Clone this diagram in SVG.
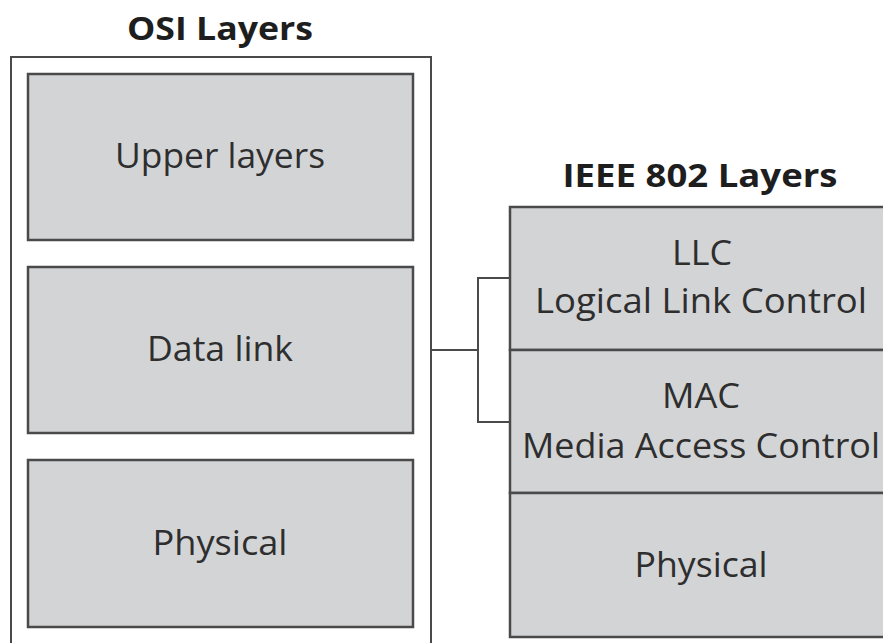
<svg xmlns="http://www.w3.org/2000/svg" width="883" height="643" viewBox="0 0 883 643">
<style>
.outer{fill:#fff;stroke:#4a4a4a;stroke-width:2}
.box{fill:#d3d4d6;stroke:#4a4a4a;stroke-width:2.5}
.t{font-family:"Open Sans","Noto Sans",sans-serif;font-size:34px;fill:#2e2e2e;text-anchor:middle}
.h{font-family:"Open Sans","Noto Sans",sans-serif;font-size:32px;font-weight:bold;fill:#1e1e1e;text-anchor:middle}
.c{fill:none;stroke:#4a4a4a;stroke-width:2}
</style>
<rect width="883" height="643" fill="#fff"/>
<g id="osi">
<text class="h" x="220" y="40" textLength="186" lengthAdjust="spacingAndGlyphs">OSI Layers</text>
<rect class="outer" x="11" y="57" width="420" height="595"/>
</g>
<g id="osi-upper">
<rect class="box" x="28" y="74" width="385" height="166"/>
<text class="t" x="220" y="168" textLength="210" lengthAdjust="spacingAndGlyphs">Upper layers</text>
</g>
<g id="osi-datalink">
<rect class="box" x="28" y="267" width="385" height="166"/>
<text class="t" x="220" y="361" textLength="146" lengthAdjust="spacingAndGlyphs">Data link</text>
</g>
<g id="osi-physical">
<rect class="box" x="28" y="460" width="385" height="167"/>
<text class="t" x="220" y="555" textLength="135" lengthAdjust="spacingAndGlyphs">Physical</text>
</g>
<g id="ieee">
<text class="h" x="700" y="187" textLength="275" lengthAdjust="spacingAndGlyphs">IEEE 802 Layers</text>
</g>
<g id="ieee-llc">
<rect class="box" x="510" y="207" width="400" height="143"/>
<text class="t" x="702" y="265" textLength="60" lengthAdjust="spacingAndGlyphs">LLC</text>
<text class="t" x="701" y="313" textLength="332" lengthAdjust="spacingAndGlyphs">Logical Link Control</text>
</g>
<g id="ieee-mac">
<rect class="box" x="510" y="350" width="400" height="143"/>
<text class="t" x="701" y="408" textLength="78" lengthAdjust="spacingAndGlyphs">MAC</text>
<text class="t" x="701" y="458" textLength="358" lengthAdjust="spacingAndGlyphs">Media Access Control</text>
</g>
<g id="ieee-physical">
<rect class="box" x="510" y="493" width="400" height="144"/>
<text class="t" x="701" y="577" textLength="133" lengthAdjust="spacingAndGlyphs">Physical</text>
</g>
<g id="connectors">
<path class="c" d="M431 350 H478 M510 278 H478 V422 H510"/>
</g>
</svg>
